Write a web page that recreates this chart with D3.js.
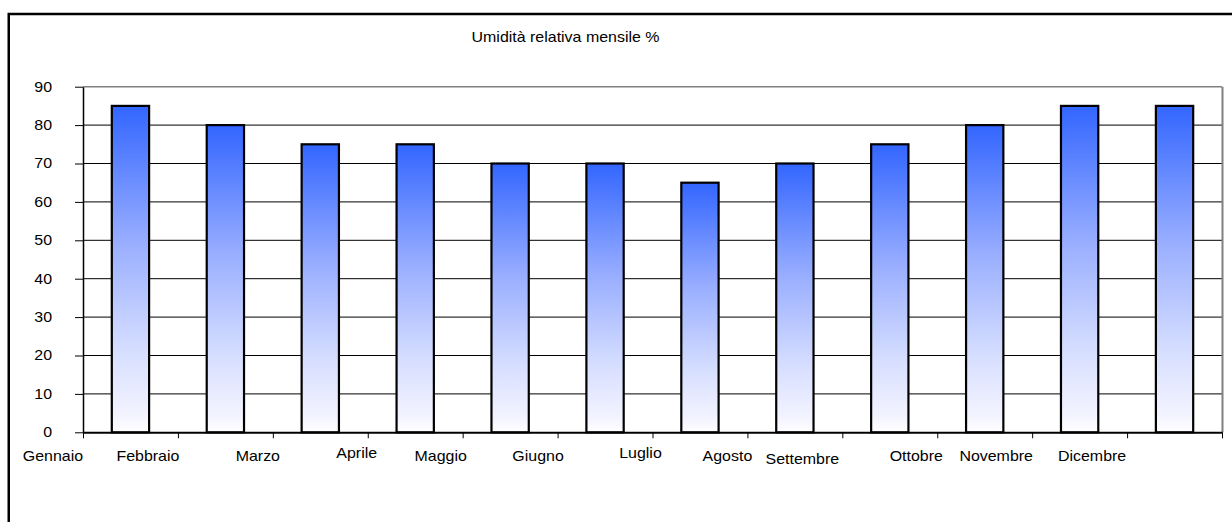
<!DOCTYPE html>
<html>
<head>
<meta charset="utf-8">
<script src="https://cdn.jsdelivr.net/npm/d3@7"></script>
<style>
  body { margin: 0; background: #fff; }
  svg { display: block; }
  text { font-family: "Liberation Sans", Arial, sans-serif; font-size: 14px; fill: #000; }
</style>
</head>
<body>
<svg id="chart" width="1232" height="522"></svg>
<script>
// Monthly relative humidity (%)
const months = ["Gennaio", "Febbraio", "Marzo", "Aprile", "Maggio", "Giugno",
                "Luglio", "Agosto", "Settembre", "Ottobre", "Novembre", "Dicembre"];
const humidity = [85, 80, 75, 75, 70, 70, 65, 70, 75, 80, 85, 85];
const yTicks = [0, 10, 20, 30, 40, 50, 60, 70, 80, 90];
const chartTitle = "Umidità relativa mensile %";

// Month labels sit loosely around their tick marks: nudges in px
const labelDx = [-30, -30, -15, -11, -22, -19.5, -12, -20, -40, -21, -36, -35];
const labelDy = [0, 0, 0, -3, 0, 0, -3, 0, 3, 0, 0, 0];

const stretch = 1.14; // horizontal stretch applied to all text

const svg = d3.select("#chart");
const plot = { left: 83, right: 1222, top: 86.7, bottom: 432.3 };

// Outer frame
svg.append("rect")
  .attr("x", 8.75).attr("y", 14)
  .attr("width", 1400).attr("height", 700)
  .attr("fill", "none").attr("stroke", "#000").attr("stroke-width", 2.5);

// Bar gradient
const defs = svg.append("defs");
const grad = defs.append("linearGradient")
  .attr("id", "barFill").attr("x1", 0).attr("y1", 0).attr("x2", 0).attr("y2", 1);
grad.append("stop").attr("offset", "0%").attr("stop-color", "#3366FF");
grad.append("stop").attr("offset", "42%").attr("stop-color", "#99AEFF");
grad.append("stop").attr("offset", "75%").attr("stop-color", "#D6DEFF");
grad.append("stop").attr("offset", "95%").attr("stop-color", "#F4F4FF");
grad.append("stop").attr("offset", "100%").attr("stop-color", "#FFFFFF");

const x = d3.scaleBand()
  .domain(months)
  .range([plot.left, plot.right])
  .paddingInner(0.607)
  .paddingOuter(0.3035);

const xEdge = d3.scaleLinear().domain([0, months.length]).range([plot.left, plot.right]);

const y = d3.scaleLinear().domain([0, 90]).range([plot.bottom, plot.top]);

// Horizontal gridlines
svg.append("g")
  .selectAll("line")
  .data(yTicks.filter(v => v > 0))
  .join("line")
  .attr("x1", plot.left).attr("x2", plot.right)
  .attr("y1", d => y(d)).attr("y2", d => y(d))
  .attr("stroke", d => d === 90 ? "#808080" : "#000")
  .attr("stroke-width", d => d === 90 ? 1.5 : 1);

// Right border of the plot area
svg.append("line")
  .attr("x1", plot.right + 0.5).attr("x2", plot.right + 0.5)
  .attr("y1", plot.top).attr("y2", plot.bottom)
  .attr("stroke", "#808080").attr("stroke-width", 2);

// Bars
svg.append("g")
  .selectAll("rect")
  .data(humidity)
  .join("rect")
  .attr("x", (d, i) => x(months[i]))
  .attr("y", d => y(d))
  .attr("width", x.bandwidth())
  .attr("height", d => y(0) - y(d))
  .attr("fill", "url(#barFill)")
  .attr("stroke", "#000")
  .attr("stroke-width", 2.2);

// Y axis
const yAxis = svg.append("g")
  .attr("transform", `translate(${plot.left},0)`)
  .call(d3.axisLeft(y).tickValues(yTicks).tickSize(8).tickSizeOuter(0).tickPadding(23));
yAxis.select(".domain").attr("stroke", "#000").attr("stroke-width", 1.5);
yAxis.selectAll(".tick line").attr("stroke", "#000").attr("stroke-width", 1);
yAxis.selectAll(".tick text")
  .style("font-size", "14px")
  .style("font-family", '"Liberation Sans", Arial, sans-serif')
  .attr("transform", function () {
    const tx = +d3.select(this).attr("x");
    return `translate(${tx},0) scale(${stretch},1)`;
  })
  .attr("x", 0);

// X axis (tick marks on category boundaries)
const xAxis = svg.append("g")
  .attr("transform", `translate(0,${plot.bottom})`)
  .call(d3.axisBottom(xEdge).tickValues(d3.range(months.length + 1))
    .tickSize(6).tickSizeOuter(0).tickFormat(""));
xAxis.select(".domain").attr("stroke", "#000").attr("stroke-width", 2);
xAxis.selectAll(".tick line").attr("stroke", "#000").attr("stroke-width", 1);

// Month labels
svg.append("g")
  .selectAll("text")
  .data(months)
  .join("text")
  .attr("text-anchor", "middle")
  .attr("transform", (d, i) =>
    `translate(${xEdge(i) + labelDx[i]},${461 + labelDy[i]}) scale(${stretch},1)`)
  .text(d => d);

// Title
svg.append("text")
  .attr("text-anchor", "middle")
  .attr("transform", `translate(565.5,42) scale(${stretch},1)`)
  .text(chartTitle);
</script>
</body>
</html>
